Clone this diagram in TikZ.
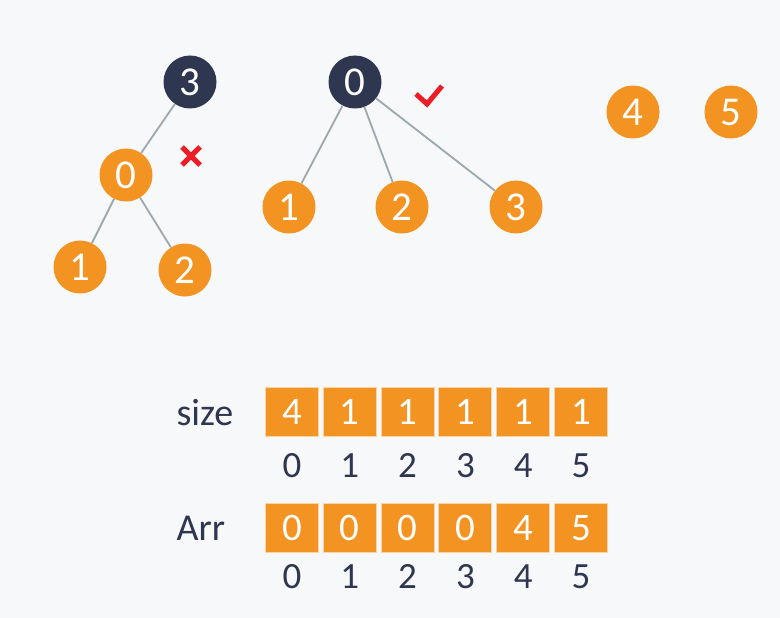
\documentclass[tikz,border=0pt]{standalone}
\usepackage{fontspec}
\setmainfont{Carlito}
\definecolor{bg}{HTML}{F7F8FA}
\definecolor{treeorange}{HTML}{F39322}
\definecolor{navy}{HTML}{2E3650}
\definecolor{edgegray}{HTML}{9AA8B0}
\definecolor{markred}{HTML}{EE1C25}
\tikzset{
  vert/.style={circle,fill=treeorange,text=white,minimum size=53pt,inner sep=0pt,font=\fontsize{41}{41}\selectfont},
  root/.style={vert,fill=navy},
  link/.style={draw=edgegray,line width=1.8pt},
  cell/.style={rectangle,fill=treeorange,draw=treeorange!40!white,line width=1pt,minimum width=53pt,minimum height=49pt,inner sep=0pt,text=white,font=\fontsize{39}{39}\selectfont},
  idx/.style={text=navy,anchor=base,font=\fontsize{37}{37}\selectfont},
  lbl/.style={text=navy,anchor=base west,font=\fontsize{38}{38}\selectfont},
  redmark/.style={draw=markred,line width=5pt}
}
\begin{document}
\begin{tikzpicture}[x=1pt,y=-1pt]

\fill[bg] (0,0) rectangle (780,618);

\node[root] (a3) at (190,82) {3};
\node[vert] (a0) at (126,175) {0};
\node[vert] (a1) at (80,267) {1};
\node[vert] (a2) at (185,270) {2};
\draw[link] (a3) -- (a0);
\draw[link] (a0) -- (a1);
\draw[link] (a0) -- (a2);
\draw[redmark] (182,147) -- (200,165);
\draw[redmark] (200,147) -- (182,165);

\node[root] (b0) at (355,82) {0};
\node[vert] (b1) at (289,207) {1};
\node[vert] (b2) at (402,207) {2};
\node[vert] (b3) at (516,207) {3};
\draw[link] (b0) -- (b1);
\draw[link] (b0) -- (b2);
\draw[link] (b0) -- (b3);
\draw[redmark] (416,94) -- (427,104) -- (442,86);

\node[vert] (c4) at (633,112) {4};
\node[vert] (c5) at (731,112) {5};

\node[lbl] (size) at (173,425) {size};
\node[lbl] (arr) at (173,540) {Arr};
\foreach \v [count=\i from 0] in {4,1,1,1,1,1}
  \node[cell] (s\i) at (292+57.8*\i,412) {\v};
\foreach \v [count=\i from 0] in {0,0,0,0,4,5}
  \node[cell] (r\i) at (292+57.8*\i,528) {\v};
\foreach \i in {0,...,5} {
  \node[idx] (si\i) at (292+57.8*\i,477) {\i};
  \node[idx] (ri\i) at (292+57.8*\i,588) {\i};
}

\end{tikzpicture}
\end{document}
